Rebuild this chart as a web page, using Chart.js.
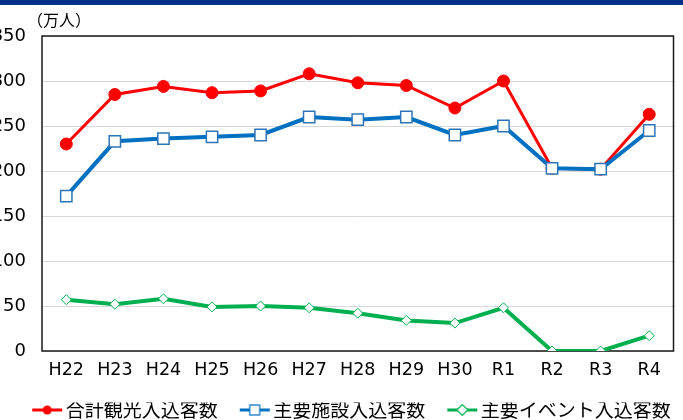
<!DOCTYPE html>
<html lang="ja">
<head>
<meta charset="UTF-8">
<title>観光入込客数の推移</title>
<script src="https://cdn.jsdelivr.net/npm/chart.js@4"></script>
<style>
  body { margin: 0; background: #fff; overflow: hidden; }
  #topBar { position: absolute; left: 0; top: 0; width: 683px; height: 5px; background: #003087; z-index: 2; }
  #wrap { position: absolute; left: 0; top: 0; width: 683px; height: 420px; }
</style>
</head>
<body>
<div id="topBar"></div>
<div id="wrap"><canvas id="visitorChart" width="683" height="420"></canvas></div>

<script>
// 年度
const years = ['H22', 'H23', 'H24', 'H25', 'H26', 'H27', 'H28', 'H29', 'H30', 'R1', 'R2', 'R3', 'R4'];

// 単位: 万人
const totalVisitors = [230, 285, 294, 287, 289, 308, 298, 295, 270, 300, 203, 202, 263];
const facilityVisitors = [172, 233, 236, 238, 240, 260, 257, 260, 240, 250, 203, 202, 245];
const eventVisitors = [57, 52, 58, 49, 50, 48, 42, 34, 31, 48, 0, 0, 17];

const seriesNames = ['合計観光入込客数', '主要施設入込客数', '主要イベント入込客数'];
const yTicks = [0, 50, 100, 150, 200, 250, 300, 350];

const latinFont = '"DejaVu Sans", "Noto Sans", sans-serif';
const cjkFont = '"Noto Sans CJK JP", "Noto Sans", sans-serif';

// legend swatch: short line with the marker on it
function legendSwatch(color, marker) {
    const c = document.createElement('canvas');
    c.width = 62;
    c.height = 16;
    const ctx = c.getContext('2d');
    ctx.strokeStyle = color;
    ctx.lineWidth = 3;
    ctx.beginPath();
    ctx.moveTo(31, 8);
    ctx.lineTo(61, 8);
    ctx.stroke();
    const cx = 46, cy = 8;
    ctx.lineWidth = 1.2;
    if (marker === 'circle') {
        ctx.fillStyle = color;
        ctx.beginPath();
        ctx.arc(cx, cy, 4.5, 0, Math.PI * 2);
        ctx.fill();
    } else if (marker === 'rect') {
        ctx.fillStyle = '#fff';
        ctx.fillRect(cx - 5, cy - 5, 10, 10);
        ctx.strokeRect(cx - 5, cy - 5, 10, 10);
    } else {
        ctx.fillStyle = '#fff';
        ctx.beginPath();
        ctx.moveTo(cx - 5.5, cy);
        ctx.lineTo(cx, cy - 5.5);
        ctx.lineTo(cx + 5.5, cy);
        ctx.lineTo(cx, cy + 5.5);
        ctx.closePath();
        ctx.fill();
        ctx.stroke();
    }
    return c;
}

const swatches = [
    legendSwatch('#FF0000', 'circle'),
    legendSwatch('#0070C0', 'rect'),
    legendSwatch('#00B050', 'rectRot')
];

// frame round the plot area + unit label
const frameAndUnit = {
    id: 'frameAndUnit',
    beforeDatasetsDraw(chart) {
        const { ctx, chartArea: a } = chart;
        ctx.save();
        ctx.strokeStyle = '#1a1a1a';
        ctx.lineWidth = 1.5;
        ctx.strokeRect(a.left, a.top, a.right - a.left, a.bottom - a.top);
        ctx.restore();
    },
    afterDraw(chart) {
        const { ctx, chartArea: a } = chart;
        ctx.save();
        ctx.font = '16px ' + cjkFont;
        ctx.fillStyle = '#000';
        ctx.textAlign = 'left';
        ctx.textBaseline = 'middle';
        ctx.fillText('（万人）', a.left - 15, a.top - 16);
        ctx.restore();
    }
};

new Chart(document.getElementById('visitorChart'), {
    type: 'line',
    data: {
        labels: years,
        datasets: [
            {
                label: seriesNames[0],
                data: totalVisitors,
                borderColor: '#FF0000',
                borderWidth: 3,
                pointStyle: 'circle',
                pointRadius: 6,
                pointBackgroundColor: '#FF0000',
                pointBorderColor: '#FF0000',
                pointBorderWidth: 1,
                order: 1
            },
            {
                label: seriesNames[1],
                data: facilityVisitors,
                borderColor: '#0070C0',
                borderWidth: 4,
                pointStyle: 'rect',
                pointRadius: 8,
                pointBackgroundColor: '#FFFFFF',
                pointBorderColor: '#2E75B6',
                pointBorderWidth: 1.5,
                order: 0
            },
            {
                label: seriesNames[2],
                data: eventVisitors,
                borderColor: '#00B050',
                borderWidth: 4,
                pointStyle: 'rectRot',
                pointRadius: 5,
                pointBackgroundColor: '#FFFFFF',
                pointBorderColor: '#00B050',
                pointBorderWidth: 1,
                order: 2
            }
        ]
    },
    options: {
        responsive: false,
        animation: false,
        devicePixelRatio: 1,
        layout: { padding: { left: 0, right: 4, top: 36, bottom: -9.5 } },
        scales: {
            x: {
                offset: true,
                grid: { display: false, drawTicks: false },
                border: { display: false },
                ticks: {
                    color: '#000',
                    padding: 9,
                    maxRotation: 0,
                    autoSkip: false,
                    font: { family: latinFont, size: 17.5 }
                },
                afterFit(scale) { scale.height = 51.5; }
            },
            y: {
                min: 0,
                max: 350,
                afterBuildTicks(scale) { scale.ticks = yTicks.map(v => ({ value: v })); },
                grid: { color: '#D9D9D9', lineWidth: 1, drawTicks: false },
                border: { display: false },
                ticks: {
                    color: '#000',
                    padding: 16,
                    font: { family: latinFont, size: 18 }
                },
                afterFit(scale) { scale.width = 42; }
            }
        },
        plugins: {
            tooltip: { enabled: false },
            legend: {
                position: 'bottom',
                labels: {
                    usePointStyle: true,
                    pointStyleWidth: 48,
                    padding: -2,
                    color: '#000',
                    font: { family: cjkFont, size: 19 },
                    sort: (a, b) => a.datasetIndex - b.datasetIndex,
                    generateLabels(chart) {
                        const items = Chart.defaults.plugins.legend.labels.generateLabels(chart);
                        items.forEach(item => { item.pointStyle = swatches[item.datasetIndex]; });
                        return items;
                    }
                }
            }
        }
    },
    plugins: [frameAndUnit]
});
</script>
</body>
</html>
